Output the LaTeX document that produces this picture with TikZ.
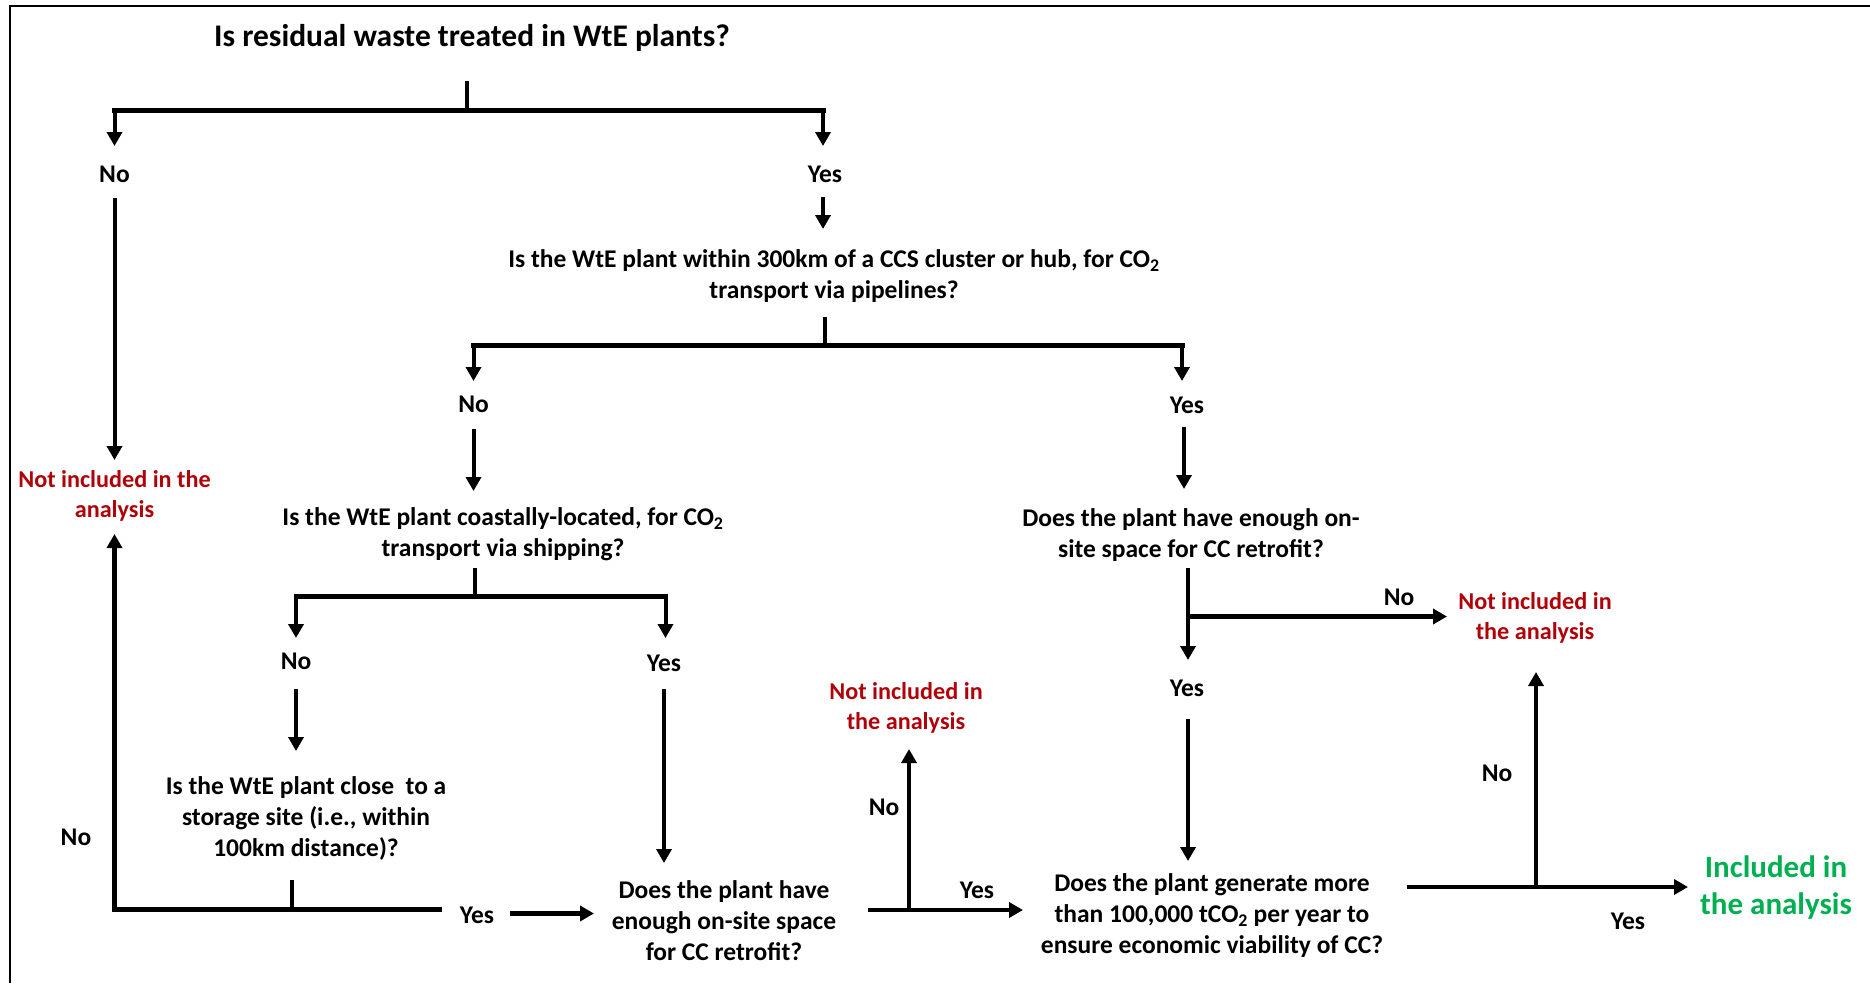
\documentclass[tikz,border=0pt]{standalone}
\usepackage{fontspec}
\setmainfont{Carlito}
\usetikzlibrary{arrows.meta}
\definecolor{nired}{RGB}{176,0,8}
\definecolor{ingreen}{RGB}{0,176,80}
\newcommand\lblfont{\fontsize{25.5}{31}\selectfont\bfseries}
\newcommand\redfont{\fontsize{24.2}{29.5}\selectfont\bfseries}
\newcommand\ttlfont{\fontsize{31.5}{38}\selectfont\bfseries}
\newcommand\grnfont{\fontsize{31}{37}\selectfont\bfseries}
\begin{document}
\begin{tikzpicture}[x=1pt,y=-1pt,
  txt/.style={font=\lblfont, align=center, inner sep=0pt},
  red/.style={font=\redfont, align=center, inner sep=0pt, text=nired},
  bar/.style={line width=5pt, line cap=rect},
  stem/.style={line width=4pt},
  arr/.style={line width=4pt, -{Triangle[length=14pt,width=15pt]}},
  harr/.style={line width=4.5pt, -{Triangle[length=14pt,width=15pt]}}]
\useasboundingbox (0,0) rectangle (1870,983);
\draw[line width=1.5pt] (10,983) -- (10,6) -- (1870,6);

% nodes
\node[inner sep=0pt, font=\ttlfont] (title) at (472,38) {Is residual waste treated in WtE plants?};
\node[txt] (no1) at (114.5,174) {No};
\node[txt] (yes1) at (825,174) {Yes};
\node[txt] (q2) at (834,276) {Is the WtE plant within 300km of a CCS cluster or hub, for CO\textsubscript{2}\\transport via pipelines?};
\node[txt] (no2) at (473.5,404) {No};
\node[txt] (yes2) at (1187,405) {Yes};
\node[txt] (q3) at (503,534) {Is the WtE plant coastally-located, for CO\textsubscript{2}\\transport via shipping?};
\node[txt] (no3) at (296,661) {No};
\node[txt] (yes3) at (664,663) {Yes};
\node[txt] (q4) at (306,818) {Is the WtE plant close\ \ to a\\storage site (i.e., within\\100km distance)?};
\node[txt] (no4) at (76,837) {No};
\node[txt] (yes4) at (477,915) {Yes};
\node[red] (ni1) at (114.5,496) {Not included in the\\analysis};
\node[txt] (q5) at (724,921) {Does the plant have\\enough on-site space\\for CC retrofit?};
\node[txt] (no5) at (884,807) {No};
\node[red] (ni2) at (906,708) {Not included in\\the analysis};
\node[txt] (yes5) at (977,890) {Yes};
\node[txt] (q6) at (1212,916) {Does the plant generate more\\than 100,000 tCO\textsubscript{2} per year to\\ensure economic viability of CC?};
\node[txt] (no6) at (1497,773) {No};
\node[red] (ni3) at (1535,618) {Not included in\\the analysis};
\node[txt] (yes6) at (1628,921) {Yes};
\node[inner sep=0pt, align=center, font=\grnfont, text=ingreen] (inc) at (1776,888) {Included in\\the analysis};
\node[txt] (q7) at (1191,535) {Does the plant have enough on-\\site space for CC retrofit?};
\node[txt] (no7) at (1399,597.5) {No};
\node[txt] (yes7) at (1187,688) {Yes};

% junction coordinates
\coordinate (j1) at (467,110);
\coordinate (j2) at (825,345);
\coordinate (j3) at (475,596);
\coordinate (j4) at (292,909);
\coordinate (j5) at (909,910);
\coordinate (j6) at (1536,887);
\coordinate (j7) at (1188,616.5);

% level 1
\draw[stem] (467,81) -- (j1);
\draw[bar] (114.5,110) -- (823,110);
\draw[arr] (114.5,108) -- (114.5,146);
\draw[arr] (823,108) -- (823,146);
\draw[arr] (114.5,198) -- (114.5,460);
\draw[arr] (823,197) -- (823,229);

% level 2
\draw[stem] (825,317) -- (j2);
\draw[bar] (473.5,345) -- (1182,345);
\draw[arr] (473.5,343) -- (473.5,381);
\draw[arr] (1182,343) -- (1182,381);
\draw[arr] (473.5,429) -- (473.5,491);
\draw[arr] (1184,427) -- (1184,489);

% level 3 (left)
\draw[stem] (475,568) -- (j3);
\draw[bar] (296,596) -- (665.5,596);
\draw[arr] (296,594) -- (296,638);
\draw[arr] (665.5,594) -- (665.5,638);
\draw[arr] (296,689) -- (296,751);
\draw[arr] (664,689) -- (664,863);

% storage question
\draw[stem] (292,880) -- (j4);
\draw[bar] (439,909) -- (114.5,909);
\draw[line width=4.5pt, -{Triangle[length=14pt,width=15pt]}] (114.5,911) -- (114.5,534);
\draw[harr] (510,913.5) -- (594,913.5);

% on-site space (shipping branch)
\draw[harr] (868,910) -- (1023,910);
\draw[arr] (j5) -- (909,749);

% generation question
\draw[harr] (1407,887) -- (1688,887);
\draw[arr] (j6) -- (1536,672);

% right branch
\draw[arr] (1188,568) -- (1188,660);
\draw[harr] (j7) -- (1447,616.5);
\draw[arr] (1188,719) -- (1188,861);
\end{tikzpicture}
\end{document}
